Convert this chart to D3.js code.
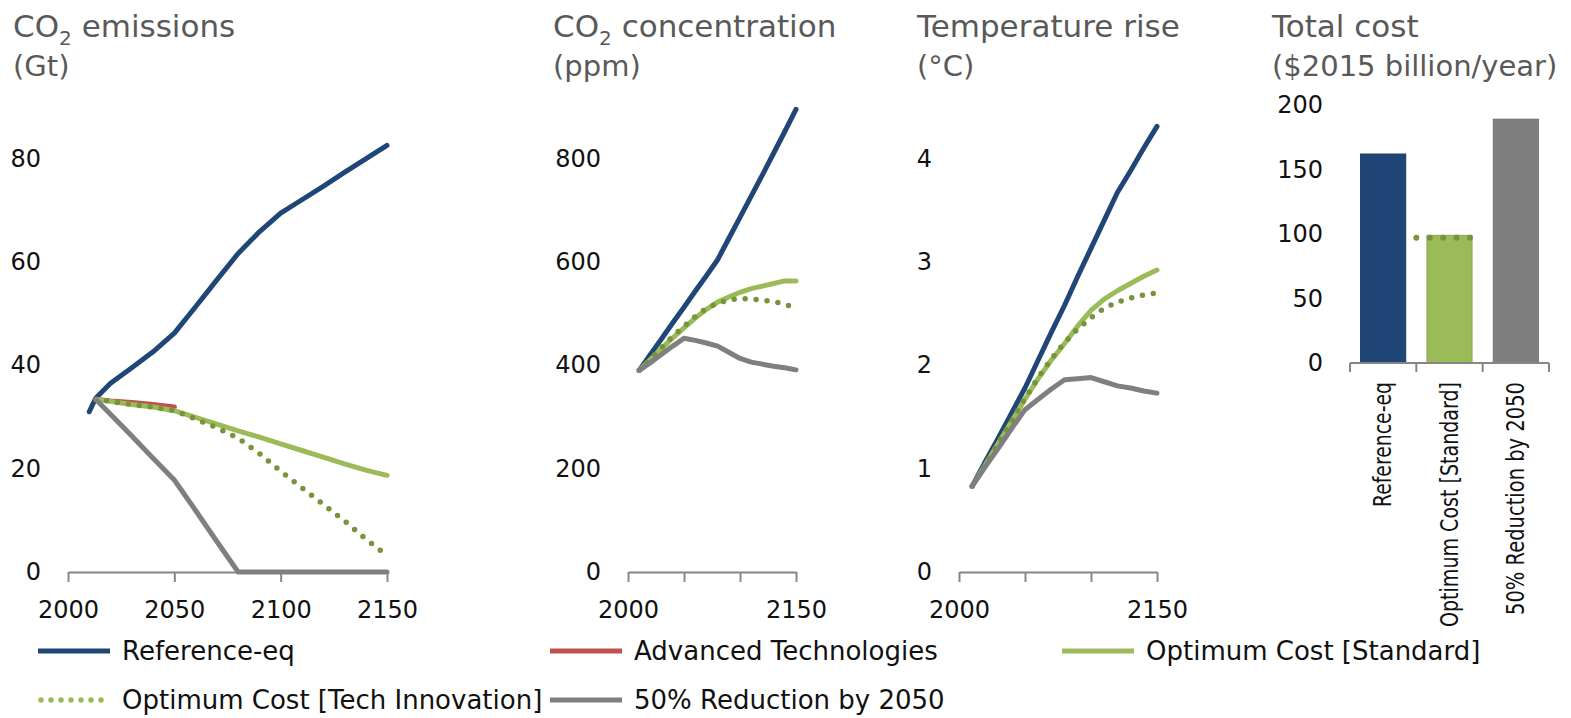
<!DOCTYPE html>
<html><head><meta charset="utf-8">
<script src="https://cdn.jsdelivr.net/npm/d3@7"></script>
<style>
body{margin:0;background:#fff;}
svg{display:block;font-family:"DejaVu Sans",sans-serif;}
</style></head><body>
<svg id="c" width="1571" height="718"></svg>
<script>
// ---------- DATA ----------
const seriesNames = ["Reference-eq","Advanced Technologies","Optimum Cost [Standard]","Optimum Cost [Tech Innovation]","50% Reduction by 2050"];
const seriesColors = ["#1f4677","#c0504d","#9bbb59","#77933c","#7f7f7f"];

// Panel 1: CO2 emissions (Gt)
const emRefYears  = [2010,2013,2020,2030,2040,2050,2060,2070,2080,2090,2100,2110,2120,2130,2140,2150];
const emRefValues = [31,33.6,36.5,39.5,42.6,46.2,51.3,56.5,61.6,65.8,69.4,72,74.6,77.3,79.9,82.5];
const emAdvYears  = [2013,2020,2030,2040,2050];
const emAdvValues = [33.4,33.1,32.8,32.4,31.9];
const emYears     = [2013,2020,2030,2040,2050,2060,2070,2080,2090,2100,2110,2120,2130,2140,2150];
const emStdValues  = [33.4,33.0,32.4,31.9,31.2,29.9,28.6,27.3,26.1,24.8,23.5,22.2,20.9,19.7,18.7];
const emTechValues = [33.4,33.0,32.4,31.9,31.2,29.6,27.9,25.9,22.9,19.5,16.3,13.1,9.9,6.4,3.2];
const em50Values   = [33.4,30.5,26.3,22.0,17.8,11.9,5.9,0,0,0,0,0,0,0,0];
const emTicks = [0,20,40,60,80];

// Panel 2: CO2 concentration (ppm)
const ppmYears = [2010,2020,2030,2040,2050,2060,2070,2080,2090,2100,2110,2120,2130,2140,2150];
const ppmRefValues  = [390,421,451,482,512,543,573,604,645,686,727,768,810,852,895];
const ppmStdValues  = [390,411,432,453,472,491,508,522,532,541,548,553,558,563,563];
const ppmTechValues = [390,412,434,456,475,494,510,520,526,529,528,526,523,518,511];
const ppm50Values   = [390,405,421,437,452,448,443,437,425,413,406,402,398,395,391];
const ppmTicks = [0,200,400,600,800];

// Panel 3: Temperature rise (°C)
const tYears = [2010,2020,2030,2040,2050,2060,2070,2080,2090,2100,2110,2120,2130,2140,2150];
const tRefValues  = [0.83,1.07,1.30,1.54,1.78,2.05,2.32,2.58,2.86,3.13,3.40,3.67,3.88,4.10,4.31];
const tStdValues  = [0.83,1.04,1.25,1.46,1.67,1.87,2.05,2.21,2.38,2.53,2.64,2.72,2.79,2.86,2.92];
const tTechValues = [0.83,1.04,1.25,1.46,1.68,1.88,2.06,2.22,2.35,2.46,2.55,2.61,2.65,2.68,2.70];
const t50Values   = [0.83,1.02,1.20,1.39,1.57,1.67,1.77,1.86,1.87,1.88,1.84,1.80,1.78,1.75,1.73];
const tTicks = [0,1,2,3,4];

// Panel 4: Total cost ($2015 billion/year)
const costCategories = ["Reference-eq","Optimum Cost [Standard]","50% Reduction by 2050"];
const costValues = [162,99,189];
const costTechValue = 97;
const costTicks = [0,50,100,150,200];

const yearTicks = [2000,2050,2100,2150];

// ---------- DRAW ----------
const svg = d3.select("#c");
const Y0 = 572, STEP = 103.4;   // pixel layout
const titleColor = "#595959";

function title(x, main, sub, subscript){
  const t = svg.append("text").attr("x",x).attr("y",37).attr("fill",titleColor).attr("font-size",31);
  if(subscript){
    t.append("tspan").text("CO");
    t.append("tspan").text("2").attr("font-size",20).attr("dy",8);
    t.append("tspan").text(main).attr("dy",-8);
  } else t.text(main);
  svg.append("text").attr("x",x).attr("y",76).attr("fill",titleColor).attr("font-size",29).text(sub);
}

function styleAxis(g){
  g.attr("font-family","DejaVu Sans, sans-serif").attr("font-size",24);
  g.selectAll("text").attr("fill","#111");
  g.selectAll("line").attr("stroke","#868686").attr("stroke-width",2);
  g.select(".domain").attr("stroke","#868686").attr("stroke-width",2);
}

function linePanel(x0, x1, ymax, ticks, series, labelAll){
  const x = d3.scaleLinear().domain([2000,2150]).range([x0,x1]);
  const y = d3.scaleLinear().domain([0,ymax]).range([Y0, Y0 - 4.5*STEP]);
  const ya = svg.append("g").attr("transform",`translate(${x0},0)`)
    .call(d3.axisLeft(y).tickValues(ticks).tickSize(0).tickPadding(27).tickFormat(d3.format("d")));
  ya.select(".domain").remove();
  styleAxis(ya);
  const xa = svg.append("g").attr("transform",`translate(0,${Y0})`)
    .call(d3.axisBottom(x).tickValues(yearTicks).tickSize(10).tickSizeOuter(0).tickPadding(19)
      .tickFormat(d => (labelAll || d===2000 || d===2150) ? String(d) : ""));
  styleAxis(xa);
  const line = d3.line().x(d=>x(d[0])).y(d=>y(d[1]));
  series.forEach(s=>{
    const p = svg.append("path").datum(d3.zip(s.years, s.values))
      .attr("d",line).attr("fill","none").attr("stroke",seriesColors[s.i])
      .attr("stroke-width",5).attr("stroke-linejoin","round").attr("stroke-linecap","round");
    if(s.i===3) p.attr("stroke-dasharray","0 11").attr("stroke-width",5.5);
  });
}

title(13," emissions","(Gt)",true);
title(553," concentration","(ppm)",true);
title(917,"Temperature rise","(\u00B0C)",false);
title(1272,"Total cost","($2015 billion/year)",false);

linePanel(68,387,90,emTicks,[
  {i:0,years:emRefYears,values:emRefValues},
  {i:1,years:emAdvYears,values:emAdvValues},
  {i:2,years:emYears,values:emStdValues},
  {i:3,years:emYears,values:emTechValues},
  {i:4,years:emYears,values:em50Values}
],true);

linePanel(628,796,900,ppmTicks,[
  {i:0,years:ppmYears,values:ppmRefValues},
  {i:2,years:ppmYears,values:ppmStdValues},
  {i:3,years:ppmYears,values:ppmTechValues},
  {i:4,years:ppmYears,values:ppm50Values}
],false);

linePanel(959,1157,4.5,tTicks,[
  {i:0,years:tYears,values:tRefValues},
  {i:2,years:tYears,values:tStdValues},
  {i:3,years:tYears,values:tTechValues},
  {i:4,years:tYears,values:t50Values}
],false);

// Bar panel
(function(){
  const B0 = 363;
  const x = d3.scaleBand().domain(costCategories).range([1350,1549]).paddingInner(0.32).paddingOuter(0.16);
  const y = d3.scaleLinear().domain([0,200]).range([B0,105]);
  const ya = svg.append("g").attr("transform","translate(1350,0)")
    .call(d3.axisLeft(y).tickValues(costTicks).tickSize(0).tickPadding(27));
  ya.select(".domain").remove();
  styleAxis(ya);
  const barColors = [seriesColors[0],seriesColors[2],seriesColors[4]];
  const strokeColors = ["#183a63","#8aab4c","#6f6f6f"];
  svg.selectAll(".bar").data(costValues).join("rect")
    .attr("x",(d,i)=>x(costCategories[i])).attr("width",x.bandwidth())
    .attr("y",d=>y(d)).attr("height",d=>B0-y(d))
    .attr("fill",(d,i)=>barColors[i]).attr("stroke",(d,i)=>strokeColors[i]).attr("stroke-width",1);
  const r = x.range(), st = x.step();
  const bounds = d3.range(costCategories.length+1).map(i=>r[0]+i*(r[1]-r[0])/costCategories.length);
  svg.append("line").attr("x1",r[0]).attr("x2",r[1]).attr("y1",B0).attr("y2",B0)
    .attr("stroke","#868686").attr("stroke-width",2);
  svg.selectAll(".btick").data(bounds).join("line")
    .attr("x1",d=>d).attr("x2",d=>d).attr("y1",B0).attr("y2",B0+9)
    .attr("stroke","#868686").attr("stroke-width",2);
  const c = costCategories[1];
  const xs = x(c) - x.paddingInner()*st/2, xe = x(c) + x.bandwidth() + x.paddingInner()*st/2;
  svg.append("line").attr("x1",xs).attr("x2",xe).attr("y1",y(costTechValue)).attr("y2",y(costTechValue))
    .attr("stroke",seriesColors[3]).attr("stroke-width",6).attr("stroke-linecap","round")
    .attr("stroke-dasharray","0 13.4");
  const labelLens = [125,245,233];
  costCategories.forEach((name,i)=>{
    const cx = x(name) + x.bandwidth()/2 + 8;
    svg.append("text").attr("transform",`translate(${cx},382) rotate(-90)`)
      .attr("text-anchor","end").attr("font-family","'Liberation Sans Narrow','DejaVu Sans Condensed',sans-serif")
      .attr("font-size",24).attr("fill","#111")
      .attr("textLength",labelLens[i]).attr("lengthAdjust","spacingAndGlyphs")
      .text(name);
  });
})();

// Legend
const legCols = [38,550,1062], legRows = [651,700];
seriesNames.forEach((name,i)=>{
  const lx = legCols[i%3], ly = legRows[Math.floor(i/3)];
  const l = svg.append("line").attr("x1",lx).attr("x2",lx+72).attr("y1",ly).attr("y2",ly)
    .attr("stroke",seriesColors[i]).attr("stroke-width",5);
  if(i===3) l.attr("stroke-dasharray","0 10").attr("stroke-linecap","round").attr("stroke-width",5.5).attr("x1",lx+3).attr("stroke","#9bbb59");
  svg.append("text").attr("x",lx+84).attr("y",ly).attr("dy","0.36em")
    .attr("font-size",26).attr("fill","#111").text(name);
});
</script>
</body></html>
